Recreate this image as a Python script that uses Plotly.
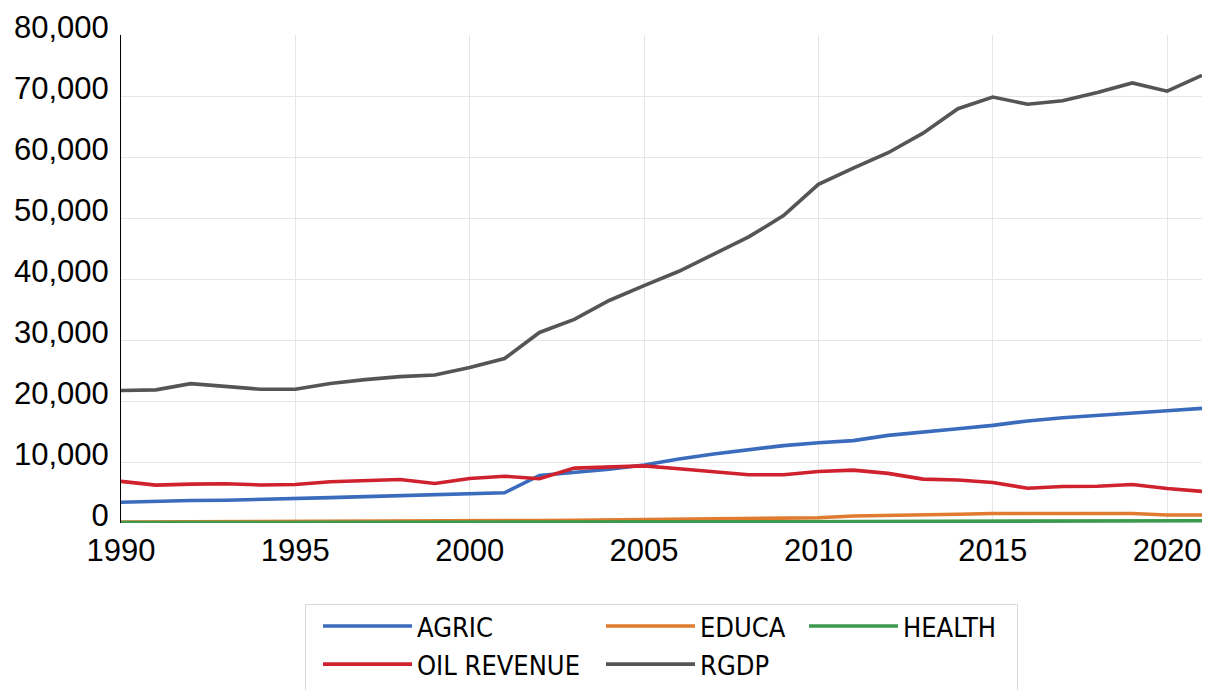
import plotly.graph_objects as go

years = list(range(1990, 2022))

agric = [3400, 3570, 3690, 3740, 3850, 3990, 4160, 4330, 4500, 4670,
         4780, 4950, 7800, 8240, 8800, 9510, 10490, 11320, 12030, 12690,
         13150, 13500, 14360, 14840, 15450, 16000, 16730, 17260, 17600, 18010,
         18400, 18790]
educa = [150, 160, 180, 200, 220, 240, 260, 280, 300, 320,
         340, 380, 420, 450, 500, 550, 620, 700, 760, 800,
         850, 1150, 1210, 1320, 1440, 1550, 1550, 1550, 1550, 1550,
         1320, 1300]
health = [60, 60, 65, 70, 70, 75, 80, 80, 85, 90,
          90, 100, 105, 110, 120, 130, 150, 170, 190, 210,
          230, 260, 280, 310, 350, 380, 385, 390, 370, 390,
          380, 380]
oil = [6830, 6210, 6380, 6440, 6240, 6320, 6770, 6940, 7130, 6480,
       7300, 7660, 7250, 9000, 9230, 9360, 8890, 8470, 7910, 7910,
       8440, 8660, 8130, 7190, 7050, 6640, 5690, 5990, 6020, 6300,
       5660, 5180]
rgdp = [21720, 21830, 22850, 22360, 21920, 21920, 22880, 23500, 24000, 24250,
        25490, 26960, 31240, 33380, 36480, 38900, 41270, 44080, 46900, 50390,
        55520, 58170, 60700, 63910, 67920, 69830, 68650, 69210, 70560, 72140,
        70790, 73380]

series = [
    ("AGRIC", agric, "#3a6bbd", "legend"),
    ("EDUCA", educa, "#e07b2f", "legend2"),
    ("HEALTH", health, "#3c9a4e", "legend3"),
    ("OIL REVENUE", oil, "#d0222e", "legend"),
    ("RGDP", rgdp, "#555555", "legend2"),
]

W, H = 1205, 690
ML, MR, MT, MB = 121, 3, 35, 167

fig = go.Figure()
for name, vals, color, leg in series:
    fig.add_trace(go.Scatter(
        x=years, y=vals, name=name, mode="lines",
        line=dict(color=color, width=3.6),
        legend=leg,
    ))

tick_font = dict(family="Liberation Sans, Arial, sans-serif", size=31, color="#000000")
leg_font = dict(family="Liberation Sans Narrow, Arial Narrow, DejaVu Sans Condensed, sans-serif",
                size=27, color="#000000")

def legend_cfg(px_x):
    return dict(
        x=px_x / W, y=1 - 602 / H, xref="container", yref="container",
        xanchor="left", yanchor="top", orientation="v",
        font=leg_font, bgcolor="rgba(0,0,0,0)", borderwidth=0,
        itemwidth=89, tracegroupgap=0, itemclick=False,
    )

pw = W - ML - MR
ph = H - MT - MB
def px2paper_x(px):
    return (px - ML) / pw
def px2paper_y(py):
    return (H - MB - py) / ph

fig.add_shape(type="rect", xref="paper", yref="paper",
              x0=px2paper_x(305.5), x1=px2paper_x(1017.5),
              y0=px2paper_y(604.5), y1=px2paper_y(694),
              line=dict(color="#d9d9d9", width=1), fillcolor="rgba(0,0,0,0)",
              layer="below")

fig.update_layout(
    width=W, height=H,
    margin=dict(l=ML, r=MR, t=MT, b=MB, pad=0, autoexpand=False),
    paper_bgcolor="white", plot_bgcolor="white",
    showlegend=True,
    legend=legend_cfg(318),
    legend2=legend_cfg(601),
    legend3=legend_cfg(804),
    xaxis=dict(
        range=[1990, 2021], tickmode="array", tickvals=[1990, 1995, 2000, 2005, 2010, 2015, 2020],
        ticktext=["1990", "1995", "2000", "2005", "2010", "2015", "2020"],
        showgrid=True, gridcolor="#e6e6e6", gridwidth=1,
        showline=False, zeroline=False, ticks="", tickfont=tick_font,
        ticklabelstandoff=6, automargin=False,
    ),
    yaxis=dict(
        range=[0, 80000], tickmode="array",
        tickvals=[0, 10000, 20000, 30000, 40000, 50000, 60000, 70000, 80000],
        ticktext=["0", "10,000", "20,000", "30,000", "40,000", "50,000", "60,000", "70,000", "80,000"],
        showgrid=True, gridcolor="#e6e6e6", gridwidth=1,
        showline=True, linecolor="#000000", linewidth=1,
        zeroline=False, ticks="", tickfont=tick_font,
        ticklabelstandoff=5, ticklabelshift=-8, automargin=False,
    ),
)

fig.write_html("out.html", config={"displayModeBar": False},
               post_script="document.body.style.margin='0';")
